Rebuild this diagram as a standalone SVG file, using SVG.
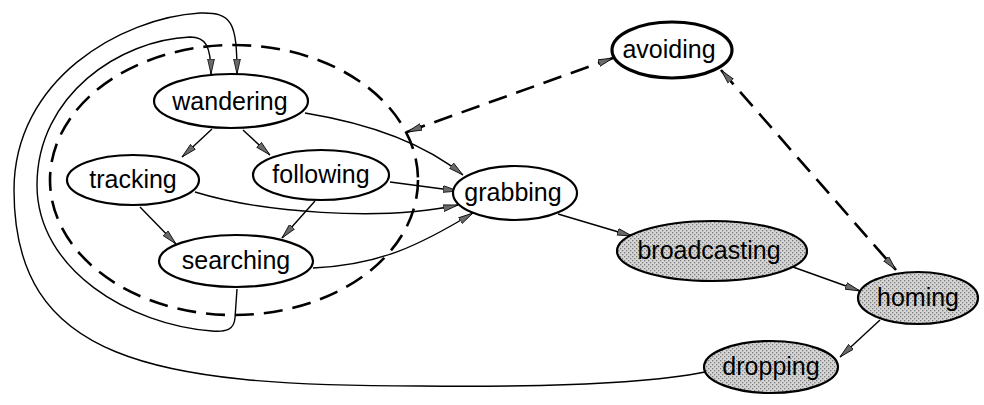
<svg xmlns="http://www.w3.org/2000/svg" width="984" height="405" viewBox="0 0 984 405">
<style>
.node{fill:#fff;stroke:#000;stroke-width:2.2}
.thick{stroke-width:3.2}
.shade{fill:url(#dots);stroke:#000;stroke-width:2.2}
.lbl{font-family:"Liberation Sans",Arial,sans-serif;font-size:25px;fill:#000;text-anchor:middle}
.edge{fill:none;stroke:#000;stroke-width:1.4;marker-end:url(#arr)}
.dash{fill:none;stroke:#000;stroke-width:2.6;stroke-dasharray:19 10}
</style>
<defs>
<pattern id="dots" width="4" height="4" patternUnits="userSpaceOnUse">
<rect width="4" height="4" fill="#d6d6d6"/>
<rect x="0" y="0" width="1.3" height="1.3" fill="#7a7a7a"/>
<rect x="2" y="2" width="1.3" height="1.3" fill="#7a7a7a"/>
</pattern>
<marker id="arr" viewBox="0 0 15 8" refX="15" refY="4" markerWidth="15" markerHeight="8" markerUnits="userSpaceOnUse" orient="auto-start-reverse">
<path d="M0,0.6 L15,4 L0,7.4 z" fill="#6a6a6a" stroke="#000" stroke-width="0.8"/>
</marker>
</defs>
<g id="cluster">
<ellipse cx="234" cy="180" rx="184" ry="135" class="dash"/>
</g>
<g id="connectors">
<path class="edge" d="M212,129 L182,157"/>
<path class="edge" d="M243,130 L270,155"/>
<path class="edge" d="M305,113 C360,122 420,140 463,175"/>
<path class="edge" d="M390,182 L458,191"/>
<path class="edge" d="M195,192 C260,212 380,222 458,205"/>
<path class="edge" d="M313,268 C380,265 420,245 473,213"/>
<path class="edge" d="M140,207 L176,244"/>
<path class="edge" d="M315,201 L282,238"/>
<path class="edge" d="M558,214 L632,236"/>
<path class="edge" d="M793,267 L860,291"/>
<path class="edge" d="M880,320 L840,357"/>
<path class="edge" d="M237,289 L235,318 C234,330 226,332 212,331 C130,325 37,270 37,185 C37,95 120,40 190,37 C205,37 211,45 211,74"/>
<path class="edge" d="M705,372 C640,385 520,387 420,386 C150,386 14,360 14,190 C14,80 120,18 200,13 C232,12 237,22 237,74"/>
<path class="dash" d="M407,132 L613,58" marker-start="url(#arr)" marker-end="url(#arr)"/>
<path class="dash" d="M721,70 L896,270" marker-start="url(#arr)" marker-end="url(#arr)"/>
</g>
<g id="wandering"><ellipse class="node" cx="231" cy="101" rx="77" ry="27"/><text class="lbl" x="230" y="110">wandering</text></g>
<g id="tracking"><ellipse class="node" cx="133" cy="180" rx="66" ry="25"/><text class="lbl" x="133" y="188">tracking</text></g>
<g id="following"><ellipse class="node" cx="321" cy="175" rx="68" ry="25"/><text class="lbl" x="321" y="183">following</text></g>
<g id="searching"><ellipse class="node" cx="236" cy="261" rx="77" ry="26"/><text class="lbl" x="236" y="269">searching</text></g>
<g id="grabbing"><ellipse class="node" cx="515" cy="193" rx="62" ry="27"/><text class="lbl" x="513" y="201">grabbing</text></g>
<g id="avoiding"><ellipse class="node thick" cx="672" cy="50" rx="60" ry="28"/><text class="lbl" x="669" y="58">avoiding</text></g>
<g id="broadcasting"><ellipse class="shade" cx="712" cy="251" rx="95" ry="30"/><text class="lbl" x="709" y="259">broadcasting</text></g>
<g id="homing"><ellipse class="shade" cx="918" cy="298" rx="60" ry="26"/><text class="lbl" x="918" y="306">homing</text></g>
<g id="dropping"><ellipse class="shade" cx="771" cy="367" rx="67" ry="26"/><text class="lbl" x="771" y="375">dropping</text></g>
</svg>
